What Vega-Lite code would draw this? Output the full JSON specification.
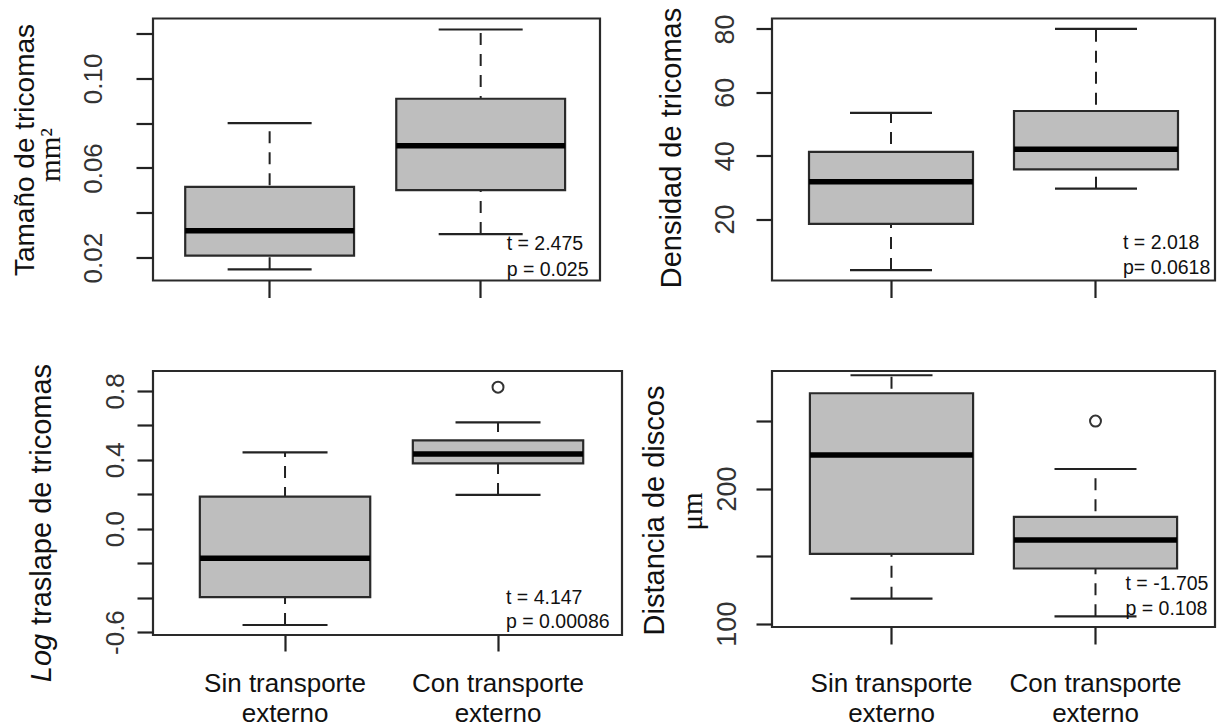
{
  "$schema": "https://vega.github.io/schema/vega-lite/v6.json",
  "background": "white",
  "padding": {"left": 9, "top": 5.5, "right": 0, "bottom": 0},
  "columns": 2,
  "bounds": "flush",
  "align": "all",
  "spacing": {"row": 88.5, "column": 150},
  "config": {
    "view": {"stroke": "#2a2a2a", "strokeWidth": 2.2},
    "font": "Liberation Sans",
    "tick": {"opacity": 1},
    "point": {"opacity": 1},
    "axis": {"grid": false, "domain": false, "labelFont": "Liberation Sans", "titleFont": "Liberation Sans", "titleFontWeight": "normal", "titleColor": "#111", "labelColor": "#333", "tickColor": "#222", "tickWidth": 2.2, "labelFlush": false, "labelOverlap": false, "labelBound": false}
  },
  "datasets": {
    "cajas": [
      {"panel": "A", "grupo": "Sin transporte externo", "lo": 0.0148, "q1": 0.0209, "med": 0.032, "q3": 0.0516, "hi": 0.08},
      {"panel": "A", "grupo": "Con transporte externo", "lo": 0.0305, "q1": 0.0501, "med": 0.0699, "q3": 0.0909, "hi": 0.1218},
      {"panel": "B", "grupo": "Sin transporte externo", "lo": 3.9, "q1": 18.5, "med": 31.8, "q3": 41.2, "hi": 53.5},
      {"panel": "B", "grupo": "Con transporte externo", "lo": 29.6, "q1": 35.7, "med": 42.0, "q3": 54.1, "hi": 80.0},
      {"panel": "C", "grupo": "Sin transporte externo", "lo": -0.559, "q1": -0.397, "med": -0.171, "q3": 0.186, "hi": 0.443},
      {"panel": "C", "grupo": "Con transporte externo", "lo": 0.196, "q1": 0.379, "med": 0.433, "q3": 0.512, "hi": 0.617},
      {"panel": "D", "grupo": "Sin transporte externo", "lo": 118.5, "q1": 151.7, "med": 224.8, "q3": 270.6, "hi": 283.9},
      {"panel": "D", "grupo": "Con transporte externo", "lo": 105.4, "q1": 140.8, "med": 162.0, "q3": 179.1, "hi": 214.5}
    ],
    "atipicos": [
      {"panel": "C", "grupo": "Con transporte externo", "valor": 0.821},
      {"panel": "D", "grupo": "Con transporte externo", "valor": 250.0}
    ],
    "notas": [
      {"panel": "A", "grupo": "Con transporte externo", "y": 0.0235, "texto": "t = 2.475"},
      {"panel": "A", "grupo": "Con transporte externo", "y": 0.0119, "texto": "p = 0.025"},
      {"panel": "B", "grupo": "Con transporte externo", "y": 10.6, "texto": "t = 2.018"},
      {"panel": "B", "grupo": "Con transporte externo", "y": 2.7, "texto": "p= 0.0618"},
      {"panel": "C", "grupo": "Con transporte externo", "y": -0.437, "texto": "t = 4.147"},
      {"panel": "C", "grupo": "Con transporte externo", "y": -0.576, "texto": "p = 0.00086"},
      {"panel": "D", "grupo": "Con transporte externo", "y": 124.9, "texto": "t = -1.705"},
      {"panel": "D", "grupo": "Con transporte externo", "y": 106.4, "texto": "p = 0.108"}
    ]
  },
  "concat": [
    {
      "width": 447, "height": 262,
      "resolve": {"axis": {"y": "independent"}},
      "layer": [
        {
          "data": {"name": "cajas"}, "transform": [{"filter": "datum.panel == 'A'"}],
          "mark": {"type": "rule", "strokeDash": [12, 9], "strokeWidth": 2, "color": "#222"},
          "encoding": {
            "x": {"field": "grupo", "type": "nominal", "title": null, "scale": {"domain": ["Sin transporte externo", "Con transporte externo"], "paddingInner": 0.2, "paddingOuter": 0.159, "align": 0.48}, "axis": {"labels": false, "tickSize": 17}},
            "y": {"field": "lo", "type": "quantitative", "scale": {"domain": [0.0098, 0.1267], "nice": false, "zero": false},
              "axis": {"orient": "left", "values": [0.02, 0.04, 0.06, 0.08, 0.1, 0.12], "labelExpr": "abs(datum.value-0.02)<1e-9 ? '0.02' : abs(datum.value-0.06)<1e-9 ? '0.06' : abs(datum.value-0.1)<1e-9 ? '0.10' : ''", "tickSize": 17, "labelAngle": 270, "labelAlign": "center", "labelBaseline": "alphabetic", "labelPadding": 35, "labelFontSize": 26, "title": "mm²", "titleFont": "Liberation Serif", "titleFontSize": 29, "titleAngle": 270, "titleAlign": "center", "titleBaseline": "alphabetic", "titleX": -94, "titleY": 136}},
            "y2": {"field": "hi"}
          }
        },
        {
          "data": {"name": "cajas"}, "transform": [{"filter": "datum.panel == 'A'"}],
          "mark": {"type": "bar", "fill": "#bebebe", "stroke": "#2a2a2a", "strokeWidth": 2.2},
          "encoding": {
            "x": {"field": "grupo", "type": "nominal", "title": null, "scale": {"domain": ["Sin transporte externo", "Con transporte externo"], "paddingInner": 0.2, "paddingOuter": 0.159, "align": 0.48}, "axis": {"labels": false, "tickSize": 17}},
            "y": {"field": "q1", "type": "quantitative", "scale": {"domain": [0.0098, 0.1267], "nice": false, "zero": false},
              "axis": {"orient": "left", "ticks": false, "labels": false, "title": "Tamaño de tricomas", "titleFontSize": 28, "titleAngle": 270, "titleAlign": "center", "titleBaseline": "alphabetic", "titleX": -120, "titleY": 131}},
            "y2": {"field": "q3"}
          }
        },
        {
          "data": {"name": "cajas"}, "transform": [{"filter": "datum.panel == 'A'"}],
          "mark": {"type": "tick", "color": "#000", "opacity": 1, "thickness": 5.5, "size": 169},
          "encoding": {
            "x": {"field": "grupo", "type": "nominal", "title": null, "scale": {"domain": ["Sin transporte externo", "Con transporte externo"], "paddingInner": 0.2, "paddingOuter": 0.159, "align": 0.48}, "axis": {"labels": false, "tickSize": 17}},
            "y": {"field": "med", "type": "quantitative", "scale": {"domain": [0.0098, 0.1267], "nice": false, "zero": false}, "axis": null}
          }
        },
        {
          "data": {"name": "cajas"}, "transform": [{"filter": "datum.panel == 'A'"}],
          "mark": {"type": "tick", "color": "#222", "opacity": 1, "thickness": 2.2, "size": 84},
          "encoding": {
            "x": {"field": "grupo", "type": "nominal", "title": null, "scale": {"domain": ["Sin transporte externo", "Con transporte externo"], "paddingInner": 0.2, "paddingOuter": 0.159, "align": 0.48}, "axis": {"labels": false, "tickSize": 17}},
            "y": {"field": "lo", "type": "quantitative", "scale": {"domain": [0.0098, 0.1267], "nice": false, "zero": false}, "axis": null}
          }
        },
        {
          "data": {"name": "cajas"}, "transform": [{"filter": "datum.panel == 'A'"}],
          "mark": {"type": "tick", "color": "#222", "opacity": 1, "thickness": 2.2, "size": 84},
          "encoding": {
            "x": {"field": "grupo", "type": "nominal", "title": null, "scale": {"domain": ["Sin transporte externo", "Con transporte externo"], "paddingInner": 0.2, "paddingOuter": 0.159, "align": 0.48}, "axis": {"labels": false, "tickSize": 17}},
            "y": {"field": "hi", "type": "quantitative", "scale": {"domain": [0.0098, 0.1267], "nice": false, "zero": false}, "axis": null}
          }
        },
        {
          "data": {"name": "notas"}, "transform": [{"filter": "datum.panel == 'A'"}],
          "mark": {"type": "text", "align": "left", "baseline": "alphabetic", "dx": 26, "fontSize": 19.5, "color": "#111"},
          "encoding": {
            "x": {"field": "grupo", "type": "nominal", "title": null, "scale": {"domain": ["Sin transporte externo", "Con transporte externo"], "paddingInner": 0.2, "paddingOuter": 0.159, "align": 0.48}, "axis": {"labels": false, "tickSize": 17}},
            "y": {"field": "y", "type": "quantitative", "scale": {"domain": [0.0098, 0.1267], "nice": false, "zero": false}, "axis": null},
            "text": {"field": "texto"}
          }
        }
      ]
    },
    {
      "width": 443, "height": 262,
      "resolve": {"axis": {"y": "independent"}},
      "layer": [
        {
          "data": {"name": "cajas"}, "transform": [{"filter": "datum.panel == 'B'"}],
          "mark": {"type": "rule", "strokeDash": [12, 9], "strokeWidth": 2, "color": "#222"},
          "encoding": {
            "x": {"field": "grupo", "type": "nominal", "title": null, "scale": {"domain": ["Sin transporte externo", "Con transporte externo"], "paddingInner": 0.2, "paddingOuter": 0.1805, "align": 0.5}, "axis": {"labels": false, "tickSize": 17}},
            "y": {"field": "lo", "type": "quantitative", "scale": {"domain": [0.6, 83.3], "nice": false, "zero": false},
              "axis": {"orient": "left", "values": [20, 40, 60, 80], "tickSize": 16, "labelAngle": 270, "labelAlign": "center", "labelBaseline": "alphabetic", "labelPadding": 23, "labelFontSize": 27, "title": "Densidad de tricomas", "titleFontSize": 29, "titleAngle": 270, "titleAlign": "center", "titleBaseline": "alphabetic", "titleX": -92, "titleY": 129}},
            "y2": {"field": "hi"}
          }
        },
        {
          "data": {"name": "cajas"}, "transform": [{"filter": "datum.panel == 'B'"}],
          "mark": {"type": "bar", "fill": "#bebebe", "stroke": "#2a2a2a", "strokeWidth": 2.2},
          "encoding": {
            "x": {"field": "grupo", "type": "nominal", "title": null, "scale": {"domain": ["Sin transporte externo", "Con transporte externo"], "paddingInner": 0.2, "paddingOuter": 0.1805, "align": 0.5}, "axis": {"labels": false, "tickSize": 17}},
            "y": {"field": "q1", "type": "quantitative", "scale": {"domain": [0.6, 83.3], "nice": false, "zero": false}, "axis": null},
            "y2": {"field": "q3"}
          }
        },
        {
          "data": {"name": "cajas"}, "transform": [{"filter": "datum.panel == 'B'"}],
          "mark": {"type": "tick", "color": "#000", "opacity": 1, "thickness": 5.5, "size": 164},
          "encoding": {
            "x": {"field": "grupo", "type": "nominal", "title": null, "scale": {"domain": ["Sin transporte externo", "Con transporte externo"], "paddingInner": 0.2, "paddingOuter": 0.1805, "align": 0.5}, "axis": {"labels": false, "tickSize": 17}},
            "y": {"field": "med", "type": "quantitative", "scale": {"domain": [0.6, 83.3], "nice": false, "zero": false}, "axis": null}
          }
        },
        {
          "data": {"name": "cajas"}, "transform": [{"filter": "datum.panel == 'B'"}],
          "mark": {"type": "tick", "color": "#222", "opacity": 1, "thickness": 2.2, "size": 82},
          "encoding": {
            "x": {"field": "grupo", "type": "nominal", "title": null, "scale": {"domain": ["Sin transporte externo", "Con transporte externo"], "paddingInner": 0.2, "paddingOuter": 0.1805, "align": 0.5}, "axis": {"labels": false, "tickSize": 17}},
            "y": {"field": "lo", "type": "quantitative", "scale": {"domain": [0.6, 83.3], "nice": false, "zero": false}, "axis": null}
          }
        },
        {
          "data": {"name": "cajas"}, "transform": [{"filter": "datum.panel == 'B'"}],
          "mark": {"type": "tick", "color": "#222", "opacity": 1, "thickness": 2.2, "size": 82},
          "encoding": {
            "x": {"field": "grupo", "type": "nominal", "title": null, "scale": {"domain": ["Sin transporte externo", "Con transporte externo"], "paddingInner": 0.2, "paddingOuter": 0.1805, "align": 0.5}, "axis": {"labels": false, "tickSize": 17}},
            "y": {"field": "hi", "type": "quantitative", "scale": {"domain": [0.6, 83.3], "nice": false, "zero": false}, "axis": null}
          }
        },
        {
          "data": {"name": "notas"}, "transform": [{"filter": "datum.panel == 'B'"}],
          "mark": {"type": "text", "align": "left", "baseline": "alphabetic", "dx": 27, "fontSize": 19.5, "color": "#111"},
          "encoding": {
            "x": {"field": "grupo", "type": "nominal", "title": null, "scale": {"domain": ["Sin transporte externo", "Con transporte externo"], "paddingInner": 0.2, "paddingOuter": 0.1805, "align": 0.5}, "axis": {"labels": false, "tickSize": 17}},
            "y": {"field": "y", "type": "quantitative", "scale": {"domain": [0.6, 83.3], "nice": false, "zero": false}, "axis": null},
            "text": {"field": "texto"}
          }
        }
      ]
    },
    {
      "width": 469, "height": 264,
      "resolve": {"axis": {"y": "independent"}},
      "layer": [
        {
          "data": {"name": "cajas"}, "transform": [{"filter": "datum.panel == 'C'"}],
          "mark": {"type": "rule", "strokeDash": [12, 9], "strokeWidth": 2, "color": "#222"},
          "encoding": {
            "x": {"field": "grupo", "type": "nominal", "title": null, "scale": {"domain": ["Sin transporte externo", "Con transporte externo"], "paddingInner": 0.2, "paddingOuter": 0.201, "align": 0.547}, "axis": {"labelExpr": "datum.value == 'Sin transporte externo' ? ['Sin transporte', 'externo'] : ['Con transporte', 'externo']", "tickSize": 16, "labelAngle": 0, "labelFontSize": 26, "labelLineHeight": 30, "labelBaseline": "alphabetic", "labelPadding": 40, "labelColor": "#111", "labelLimit": 400}},
            "y": {"field": "lo", "type": "quantitative", "scale": {"domain": [-0.617, 0.915], "nice": false, "zero": false},
              "axis": {"orient": "left", "values": [-0.6, -0.4, -0.2, 0, 0.2, 0.4, 0.6, 0.8], "labelExpr": "abs(datum.value+0.6)<1e-9 ? '-0.6' : abs(datum.value)<1e-9 ? '0.0' : abs(datum.value-0.4)<1e-9 ? '0.4' : abs(datum.value-0.8)<1e-9 ? '0.8' : ''", "tickSize": 16, "labelAngle": 270, "labelAlign": "center", "labelBaseline": "alphabetic", "labelPadding": 14, "labelFontSize": 26, "title": "traslape de tricomas", "titleFontSize": 29, "titleAngle": 270, "titleAlign": "center", "titleBaseline": "alphabetic", "titleX": -103, "titleY": 123}},
            "y2": {"field": "hi"}
          }
        },
        {
          "data": {"name": "cajas"}, "transform": [{"filter": "datum.panel == 'C'"}],
          "mark": {"type": "bar", "fill": "#bebebe", "stroke": "#2a2a2a", "strokeWidth": 2.2},
          "encoding": {
            "x": {"field": "grupo", "type": "nominal", "title": null, "scale": {"domain": ["Sin transporte externo", "Con transporte externo"], "paddingInner": 0.2, "paddingOuter": 0.201, "align": 0.547}, "axis": {"labelExpr": "datum.value == 'Sin transporte externo' ? ['Sin transporte', 'externo'] : ['Con transporte', 'externo']", "tickSize": 16, "labelAngle": 0, "labelFontSize": 26, "labelLineHeight": 30, "labelBaseline": "alphabetic", "labelPadding": 40, "labelColor": "#111", "labelLimit": 400}},
            "y": {"field": "q1", "type": "quantitative", "scale": {"domain": [-0.617, 0.915], "nice": false, "zero": false},
              "axis": {"orient": "left", "ticks": false, "labels": false, "title": "Log", "titleFontStyle": "italic", "titleFontSize": 29, "titleAngle": 270, "titleAlign": "center", "titleBaseline": "alphabetic", "titleX": -103, "titleY": 286.5}},
            "y2": {"field": "q3"}
          }
        },
        {
          "data": {"name": "cajas"}, "transform": [{"filter": "datum.panel == 'C'"}],
          "mark": {"type": "tick", "color": "#000", "opacity": 1, "thickness": 5.5, "size": 170},
          "encoding": {
            "x": {"field": "grupo", "type": "nominal", "title": null, "scale": {"domain": ["Sin transporte externo", "Con transporte externo"], "paddingInner": 0.2, "paddingOuter": 0.201, "align": 0.547}, "axis": {"labelExpr": "datum.value == 'Sin transporte externo' ? ['Sin transporte', 'externo'] : ['Con transporte', 'externo']", "tickSize": 16, "labelAngle": 0, "labelFontSize": 26, "labelLineHeight": 30, "labelBaseline": "alphabetic", "labelPadding": 40, "labelColor": "#111", "labelLimit": 400}},
            "y": {"field": "med", "type": "quantitative", "scale": {"domain": [-0.617, 0.915], "nice": false, "zero": false}, "axis": null}
          }
        },
        {
          "data": {"name": "cajas"}, "transform": [{"filter": "datum.panel == 'C'"}],
          "mark": {"type": "tick", "color": "#222", "opacity": 1, "thickness": 2.2, "size": 85},
          "encoding": {
            "x": {"field": "grupo", "type": "nominal", "title": null, "scale": {"domain": ["Sin transporte externo", "Con transporte externo"], "paddingInner": 0.2, "paddingOuter": 0.201, "align": 0.547}, "axis": {"labelExpr": "datum.value == 'Sin transporte externo' ? ['Sin transporte', 'externo'] : ['Con transporte', 'externo']", "tickSize": 16, "labelAngle": 0, "labelFontSize": 26, "labelLineHeight": 30, "labelBaseline": "alphabetic", "labelPadding": 40, "labelColor": "#111", "labelLimit": 400}},
            "y": {"field": "lo", "type": "quantitative", "scale": {"domain": [-0.617, 0.915], "nice": false, "zero": false}, "axis": null}
          }
        },
        {
          "data": {"name": "cajas"}, "transform": [{"filter": "datum.panel == 'C'"}],
          "mark": {"type": "tick", "color": "#222", "opacity": 1, "thickness": 2.2, "size": 85},
          "encoding": {
            "x": {"field": "grupo", "type": "nominal", "title": null, "scale": {"domain": ["Sin transporte externo", "Con transporte externo"], "paddingInner": 0.2, "paddingOuter": 0.201, "align": 0.547}, "axis": {"labelExpr": "datum.value == 'Sin transporte externo' ? ['Sin transporte', 'externo'] : ['Con transporte', 'externo']", "tickSize": 16, "labelAngle": 0, "labelFontSize": 26, "labelLineHeight": 30, "labelBaseline": "alphabetic", "labelPadding": 40, "labelColor": "#111", "labelLimit": 400}},
            "y": {"field": "hi", "type": "quantitative", "scale": {"domain": [-0.617, 0.915], "nice": false, "zero": false}, "axis": null}
          }
        },
        {
          "data": {"name": "atipicos"}, "transform": [{"filter": "datum.panel == 'C'"}],
          "mark": {"type": "point", "shape": "circle", "filled": false, "opacity": 1, "size": 120, "strokeWidth": 2, "color": "#333"},
          "encoding": {
            "x": {"field": "grupo", "type": "nominal", "title": null, "scale": {"domain": ["Sin transporte externo", "Con transporte externo"], "paddingInner": 0.2, "paddingOuter": 0.201, "align": 0.547}, "axis": {"labelExpr": "datum.value == 'Sin transporte externo' ? ['Sin transporte', 'externo'] : ['Con transporte', 'externo']", "tickSize": 16, "labelAngle": 0, "labelFontSize": 26, "labelLineHeight": 30, "labelBaseline": "alphabetic", "labelPadding": 40, "labelColor": "#111", "labelLimit": 400}},
            "y": {"field": "valor", "type": "quantitative", "scale": {"domain": [-0.617, 0.915], "nice": false, "zero": false}, "axis": null}
          }
        },
        {
          "data": {"name": "notas"}, "transform": [{"filter": "datum.panel == 'C'"}],
          "mark": {"type": "text", "align": "left", "baseline": "alphabetic", "dx": 8, "fontSize": 19.5, "color": "#111"},
          "encoding": {
            "x": {"field": "grupo", "type": "nominal", "title": null, "scale": {"domain": ["Sin transporte externo", "Con transporte externo"], "paddingInner": 0.2, "paddingOuter": 0.201, "align": 0.547}, "axis": {"labelExpr": "datum.value == 'Sin transporte externo' ? ['Sin transporte', 'externo'] : ['Con transporte', 'externo']", "tickSize": 16, "labelAngle": 0, "labelFontSize": 26, "labelLineHeight": 30, "labelBaseline": "alphabetic", "labelPadding": 40, "labelColor": "#111", "labelLimit": 400}},
            "y": {"field": "y", "type": "quantitative", "scale": {"domain": [-0.617, 0.915], "nice": false, "zero": false}, "axis": null},
            "text": {"field": "texto"}
          }
        }
      ]
    },
    {
      "width": 443, "height": 256,
      "resolve": {"axis": {"y": "independent"}},
      "layer": [
        {
          "data": {"name": "cajas"}, "transform": [{"filter": "datum.panel == 'D'"}],
          "mark": {"type": "rule", "strokeDash": [12, 9], "strokeWidth": 2, "color": "#222"},
          "encoding": {
            "x": {"field": "grupo", "type": "nominal", "title": null, "scale": {"domain": ["Sin transporte externo", "Con transporte externo"], "paddingInner": 0.2, "paddingOuter": 0.1858, "align": 0.5}, "axis": {"labelExpr": "datum.value == 'Sin transporte externo' ? ['Sin transporte', 'externo'] : ['Con transporte', 'externo']", "tickSize": 17, "labelAngle": 0, "labelFontSize": 26, "labelLineHeight": 30, "labelBaseline": "alphabetic", "labelPadding": 47, "labelColor": "#111", "labelLimit": 400}},
            "y": {"field": "lo", "type": "quantitative", "scale": {"domain": [97.5, 287.06], "nice": false, "zero": false},
              "axis": {"orient": "left", "values": [100, 150, 200, 250], "labelExpr": "datum.value == 100 ? '100' : datum.value == 200 ? '200' : ''", "tickSize": 16, "labelAngle": 270, "labelAlign": "center", "labelBaseline": "alphabetic", "labelPadding": 21, "labelFontSize": 27, "title": "μm", "titleFont": "Liberation Serif", "titleFontSize": 29, "titleAngle": 270, "titleAlign": "center", "titleBaseline": "alphabetic", "titleX": -71, "titleY": 140}},
            "y2": {"field": "hi"}
          }
        },
        {
          "data": {"name": "cajas"}, "transform": [{"filter": "datum.panel == 'D'"}],
          "mark": {"type": "bar", "fill": "#bebebe", "stroke": "#2a2a2a", "strokeWidth": 2.2},
          "encoding": {
            "x": {"field": "grupo", "type": "nominal", "title": null, "scale": {"domain": ["Sin transporte externo", "Con transporte externo"], "paddingInner": 0.2, "paddingOuter": 0.1858, "align": 0.5}, "axis": {"labelExpr": "datum.value == 'Sin transporte externo' ? ['Sin transporte', 'externo'] : ['Con transporte', 'externo']", "tickSize": 17, "labelAngle": 0, "labelFontSize": 26, "labelLineHeight": 30, "labelBaseline": "alphabetic", "labelPadding": 47, "labelColor": "#111", "labelLimit": 400}},
            "y": {"field": "q1", "type": "quantitative", "scale": {"domain": [97.5, 287.06], "nice": false, "zero": false},
              "axis": {"orient": "left", "ticks": false, "labels": false, "title": "Distancia de discos", "titleFontSize": 29, "titleAngle": 270, "titleAlign": "center", "titleBaseline": "alphabetic", "titleX": -109, "titleY": 139}},
            "y2": {"field": "q3"}
          }
        },
        {
          "data": {"name": "cajas"}, "transform": [{"filter": "datum.panel == 'D'"}],
          "mark": {"type": "tick", "color": "#000", "opacity": 1, "thickness": 5.5, "size": 163},
          "encoding": {
            "x": {"field": "grupo", "type": "nominal", "title": null, "scale": {"domain": ["Sin transporte externo", "Con transporte externo"], "paddingInner": 0.2, "paddingOuter": 0.1858, "align": 0.5}, "axis": {"labelExpr": "datum.value == 'Sin transporte externo' ? ['Sin transporte', 'externo'] : ['Con transporte', 'externo']", "tickSize": 17, "labelAngle": 0, "labelFontSize": 26, "labelLineHeight": 30, "labelBaseline": "alphabetic", "labelPadding": 47, "labelColor": "#111", "labelLimit": 400}},
            "y": {"field": "med", "type": "quantitative", "scale": {"domain": [97.5, 287.06], "nice": false, "zero": false}, "axis": null}
          }
        },
        {
          "data": {"name": "cajas"}, "transform": [{"filter": "datum.panel == 'D'"}],
          "mark": {"type": "tick", "color": "#222", "opacity": 1, "thickness": 2.2, "size": 82},
          "encoding": {
            "x": {"field": "grupo", "type": "nominal", "title": null, "scale": {"domain": ["Sin transporte externo", "Con transporte externo"], "paddingInner": 0.2, "paddingOuter": 0.1858, "align": 0.5}, "axis": {"labelExpr": "datum.value == 'Sin transporte externo' ? ['Sin transporte', 'externo'] : ['Con transporte', 'externo']", "tickSize": 17, "labelAngle": 0, "labelFontSize": 26, "labelLineHeight": 30, "labelBaseline": "alphabetic", "labelPadding": 47, "labelColor": "#111", "labelLimit": 400}},
            "y": {"field": "lo", "type": "quantitative", "scale": {"domain": [97.5, 287.06], "nice": false, "zero": false}, "axis": null}
          }
        },
        {
          "data": {"name": "cajas"}, "transform": [{"filter": "datum.panel == 'D'"}],
          "mark": {"type": "tick", "color": "#222", "opacity": 1, "thickness": 2.2, "size": 82},
          "encoding": {
            "x": {"field": "grupo", "type": "nominal", "title": null, "scale": {"domain": ["Sin transporte externo", "Con transporte externo"], "paddingInner": 0.2, "paddingOuter": 0.1858, "align": 0.5}, "axis": {"labelExpr": "datum.value == 'Sin transporte externo' ? ['Sin transporte', 'externo'] : ['Con transporte', 'externo']", "tickSize": 17, "labelAngle": 0, "labelFontSize": 26, "labelLineHeight": 30, "labelBaseline": "alphabetic", "labelPadding": 47, "labelColor": "#111", "labelLimit": 400}},
            "y": {"field": "hi", "type": "quantitative", "scale": {"domain": [97.5, 287.06], "nice": false, "zero": false}, "axis": null}
          }
        },
        {
          "data": {"name": "atipicos"}, "transform": [{"filter": "datum.panel == 'D'"}],
          "mark": {"type": "point", "shape": "circle", "filled": false, "opacity": 1, "size": 120, "strokeWidth": 2, "color": "#333"},
          "encoding": {
            "x": {"field": "grupo", "type": "nominal", "title": null, "scale": {"domain": ["Sin transporte externo", "Con transporte externo"], "paddingInner": 0.2, "paddingOuter": 0.1858, "align": 0.5}, "axis": {"labelExpr": "datum.value == 'Sin transporte externo' ? ['Sin transporte', 'externo'] : ['Con transporte', 'externo']", "tickSize": 17, "labelAngle": 0, "labelFontSize": 26, "labelLineHeight": 30, "labelBaseline": "alphabetic", "labelPadding": 47, "labelColor": "#111", "labelLimit": 400}},
            "y": {"field": "valor", "type": "quantitative", "scale": {"domain": [97.5, 287.06], "nice": false, "zero": false}, "axis": null}
          }
        },
        {
          "data": {"name": "notas"}, "transform": [{"filter": "datum.panel == 'D'"}],
          "mark": {"type": "text", "align": "left", "baseline": "alphabetic", "dx": 30, "fontSize": 19.5, "color": "#111"},
          "encoding": {
            "x": {"field": "grupo", "type": "nominal", "title": null, "scale": {"domain": ["Sin transporte externo", "Con transporte externo"], "paddingInner": 0.2, "paddingOuter": 0.1858, "align": 0.5}, "axis": {"labelExpr": "datum.value == 'Sin transporte externo' ? ['Sin transporte', 'externo'] : ['Con transporte', 'externo']", "tickSize": 17, "labelAngle": 0, "labelFontSize": 26, "labelLineHeight": 30, "labelBaseline": "alphabetic", "labelPadding": 47, "labelColor": "#111", "labelLimit": 400}},
            "y": {"field": "y", "type": "quantitative", "scale": {"domain": [97.5, 287.06], "nice": false, "zero": false}, "axis": null},
            "text": {"field": "texto"}
          }
        }
      ]
    }
  ]
}
